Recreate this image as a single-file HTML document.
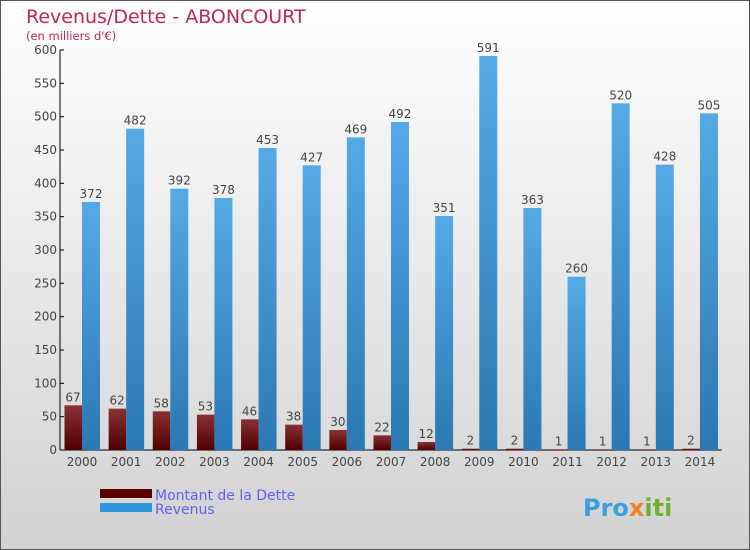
<!DOCTYPE html>
<html><head><meta charset="utf-8"><style>
body{margin:0;}
svg{display:block;font-family:"DejaVu Sans","Liberation Sans",sans-serif;}
</style></head><body>
<svg id="chart" width="750" height="550" viewBox="0 0 750 550">
<defs>
<linearGradient id="bg" x1="0" y1="0" x2="0" y2="1"><stop offset="0" stop-color="#ffffff"/><stop offset="1" stop-color="#d2d2d2"/></linearGradient>
<linearGradient id="gd" x1="0" y1="0" x2="0" y2="1"><stop offset="0" stop-color="#8a3034"/><stop offset="1" stop-color="#4e0000"/></linearGradient>
<linearGradient id="gr" x1="0" y1="0" x2="0" y2="1"><stop offset="0" stop-color="#55aae6"/><stop offset="1" stop-color="#2a78b4"/></linearGradient>
</defs>
<rect x="0.5" y="0.5" width="749" height="549" fill="url(#bg)" stroke="#555"/>
<text x="26" y="23" font-size="19" fill="#c0245c">Revenus/Dette - ABONCOURT</text>
<text x="26" y="40" font-size="11.5" fill="#c0245c">(en milliers d'€)</text>
<g id="axes"></g>
<g id="bars"></g>
<rect x="100" y="489" width="52" height="9" fill="#5a0000"/>
<rect x="100" y="503" width="52" height="9" fill="#2e96dc"/>
<text x="155" y="500" font-size="14" fill="#6060f0">Montant de la Dette</text>
<text x="155" y="514" font-size="14" fill="#6060f0">Revenus</text>
<text x="583" y="516" font-size="24" font-weight="bold" fill="#3aa0dc">Pro<tspan fill="#f08020">x</tspan><tspan fill="#70b030">iti</tspan></text>
</svg>
<script>
const years=["2000","2001","2002","2003","2004","2005","2006","2007","2008","2009","2010","2011","2012","2013","2014"];
const dette=[67,62,58,53,46,38,30,22,12,2,2,1,1,1,2];
const revenus=[372,482,392,378,453,427,469,492,351,591,363,260,520,428,505];
const yTicks=[0,50,100,150,200,250,300,350,400,450,500,550,600];
const NS="http://www.w3.org/2000/svg";
const y=v=>450-v*400/600;
const xc=i=>82+i*44.14;
function mk(t,a,p){const e=document.createElementNS(NS,t);for(const k in a)e.setAttribute(k,a[k]);p.appendChild(e);return e;}
const ax=document.getElementById('axes'),bars=document.getElementById('bars');
const yl=mk('line',{x1:60,y1:50,x2:60,y2:450,stroke:'#000'},ax);


const xl=mk('line',{x1:60,y1:450,x2:722,y2:450,stroke:'#000'},ax);


yTicks.forEach(v=>{
  mk('line',{x1:60,x2:64,y1:y(v),y2:y(v),stroke:'#000'},ax);
  const t=mk('text',{x:57,y:y(v)+4,'text-anchor':'end','font-size':12,fill:'#444'},ax);
  t.textContent=v;
  
  
});
years.forEach((yr,i)=>{
  const c=xc(i);
  const t=mk('text',{x:c,y:466,'text-anchor':'middle','font-size':12,fill:'#444'},ax);
  t.textContent=yr;
  
  
  const d=mk('rect',{x:c-17.5,y:y(dette[i]),width:17.5,height:450-y(dette[i]),fill:'url(#gd)'},bars);
  
  
  const r=mk('rect',{x:c,y:y(revenus[i]),width:18,height:450-y(revenus[i]),fill:'url(#gr)'},bars);
  
  
  const dl=mk('text',{x:c-9,y:y(dette[i])-4,'text-anchor':'middle','font-size':12,fill:'#444'},bars);
  dl.textContent=dette[i];
  
  
  const rl=mk('text',{x:c+9,y:y(revenus[i])-4,'text-anchor':'middle','font-size':12,fill:'#444'},bars);
  rl.textContent=revenus[i];
  
  
});
</script>
</body></html>
